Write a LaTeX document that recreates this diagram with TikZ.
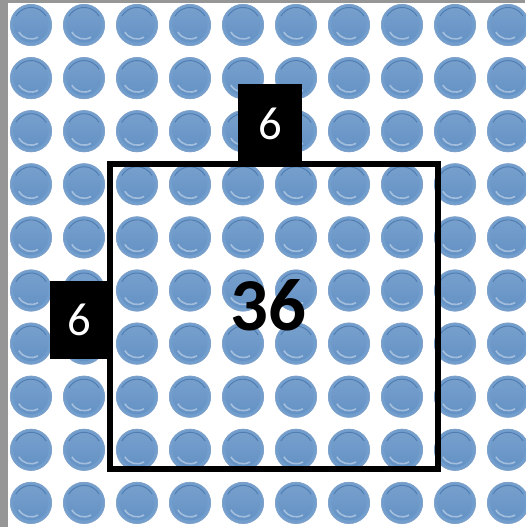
\documentclass[tikz,border=0pt]{standalone}
\usepackage{fontspec}
\setmainfont{Carlito}
\definecolor{dotblue}{RGB}{100,146,197}
\definecolor{dotrim}{RGB}{114,158,206}
\definecolor{dotdark}{RGB}{80,124,176}
\definecolor{edgegray}{RGB}{150,150,150}
\tikzset{
  sidebox/.style={fill=black,text=white,font=\fontsize{35}{35}\selectfont,inner sep=0pt},
  bigsquare/.style={draw=black,line width=4.5pt,minimum width=246pt,minimum height=228.75pt,inner sep=0pt}
}
\begin{document}
\begin{tikzpicture}[x=0.75pt,y=-0.75pt]
\useasboundingbox (0,0) rectangle (525,527);
\fill[white] (0,0) rectangle (525,527);
% 10 x 10 grid of blue counters
\foreach \i in {0,...,9}{
  \foreach \j in {0,...,9}{
    \begin{scope}[shift={(31+53*\i,25+53.1*\j)}]
    \fill[dotrim] (0,0) circle (21);
    \draw[dotdark!70,line width=0.4pt] (0,0) circle (20.6);
    \shade[top color=dotblue!88!white,bottom color=dotblue] (0,0) circle (17.5);
    \draw[dotdark,line width=0.7pt] (-150:17.5) arc (-150:-30:17.5);
    \draw[white,opacity=0.4,line width=1.2pt] (150:14) arc (150:60:14);
    \end{scope}
  }
}
% grey edges of the slide
\fill[edgegray] (0,0) rectangle (8,527);
\fill[edgegray] (0,0) rectangle (525,3);
% the 6 by 6 square
\node[bigsquare] (square) at (274,316.5) {};
\node[font=\bfseries\fontsize{56}{56}\selectfont] (area) at (268,305) {36};
\node[sidebox,minimum width=48pt,minimum height=60pt] (top) at (270,124) {6};
\node[sidebox,minimum width=44.25pt,minimum height=58.5pt] (left) at (79,320) {6};
\end{tikzpicture}
\end{document}
